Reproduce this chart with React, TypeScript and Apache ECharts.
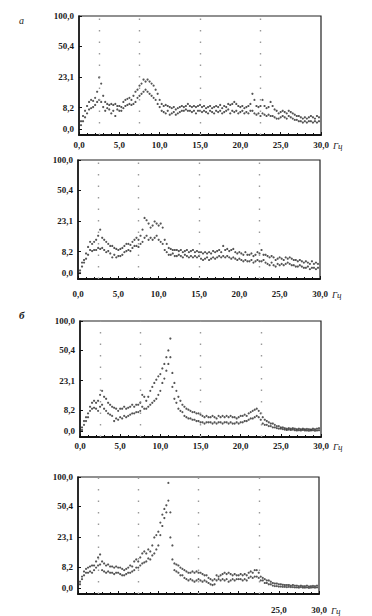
import React, { useEffect, useRef } from "react";
import * as echarts from "echarts";

// frequency bins, Hz (0.25 Hz step)
const FREQ: number[] = Array.from({ length: 119 }, (_, i) => (i + 1) * 0.25);

// nonlinear amplitude scale of the original figure
const Y_TICKS = [0, 8.2, 23.1, 50.4, 100];
const Y_LABELS = ["0,0", "8,2", "23,1", "50,4", "100,0"];

const MARKS = [2.5, 7.5, 15, 22.5];

// panel а, upper record
const P1_HI = [
  3, 5, 7, 9, 11, 12, 11.5, 13, 16, 23, 20, 14, 11, 10, 9.5, 10, 9.5, 10, 9, 9,
  8.5, 11, 12, 12.5, 13, 12, 14, 16, 17, 19, 20, 22, 21, 22, 21, 20, 19, 17, 15, 12,
  10, 9, 9.5, 9, 8.5, 8, 8.5, 7.5, 8, 8.5, 9, 8.5, 9, 10, 9, 8.5, 9, 8.5, 9, 9.5,
  8.5, 9, 8, 8.5, 9, 8, 8.5, 9, 8.5, 9.5, 8, 9, 8.5, 10, 9.5, 10, 11, 10, 9, 8.5,
  9, 8, 8.5, 9, 10, 15, 12, 9, 8.5, 9, 12, 9, 8, 8.5, 11, 9, 7.5, 7, 6, 6.5,
  7, 6.5, 6, 7, 6.5, 6, 5.5, 5, 5, 4.5, 4, 4.5, 4, 4.5, 5, 4.5, 4, 5, 4.5,
];
const P1_LO = [
  1.5, 3, 4.5, 6, 7.5, 8, 8.5, 9.5, 11, 12, 11, 8.5, 7, 8, 7.5, 6, 7, 5, 7.5, 7,
  7, 8, 9, 9.5, 10, 9.5, 10, 11, 13, 14, 15, 16, 17, 16, 15, 14, 13, 12, 10, 8.5,
  7, 6.5, 6, 7, 5.5, 6, 6.5, 5.5, 6, 6.5, 7, 7, 7.5, 7, 7, 6.5, 7, 6, 7, 7,
  6.5, 7, 6.5, 6, 7, 6.5, 6, 7, 6.5, 7, 6, 6.5, 7, 7.5, 6, 7, 6.5, 7, 6, 6.5,
  7, 6, 6.5, 6, 7, 7, 6, 5.5, 6, 5, 6, 5.5, 5, 5.5, 5, 5, 4.5, 4, 4, 4.5,
  5, 4.5, 4, 5, 4.5, 4, 3.5, 3.5, 3, 3, 2.5, 3, 2.5, 3, 3, 2.5, 3, 2.5, 3,
];

// panel а, lower record
const P2_HI = [
  1, 4, 5, 7.5, 10.5, 13, 12, 13, 14, 16, 19, 15, 14, 13, 12, 11, 11, 10, 9.5, 9,
  9.5, 10, 11, 12, 12, 11.5, 13, 14, 15, 14, 16, 19, 26, 24, 22, 20, 21, 23, 22, 21,
  22, 20, 14, 12, 10, 9.5, 9, 9, 9, 8.5, 9, 8, 8.5, 9, 8, 8.5, 9, 8, 8.5, 8,
  8, 7.5, 8, 7.5, 8, 7.5, 8.5, 8, 8.5, 9, 8, 11, 9, 9.5, 8.5, 9, 9.5, 8, 7.5, 8,
  7.5, 7, 8, 7, 7, 7.5, 6.5, 7, 8, 7.5, 9, 7, 7, 6.5, 6, 6.5, 6, 5, 5.5, 6,
  5.5, 5, 6, 5.5, 6, 5.5, 5, 5, 4.5, 5, 4.5, 4, 4.5, 4, 3.5, 4.5, 3.5, 4, 3.5,
];
const P2_LO = [
  0, 2.5, 4, 5.5, 7, 9, 8.5, 9, 9, 10, 9.5, 10, 9, 8, 8.5, 7.5, 6, 7, 6, 6.5,
  6.5, 7, 8, 8.5, 9, 8.5, 10, 11, 11, 10.5, 12, 13, 15, 16, 14, 15, 14, 15, 16, 14,
  13, 12, 9, 8, 7, 7, 7.5, 6.5, 6.5, 7, 6.5, 6, 7, 6.5, 6, 6.5, 6, 6.5, 6, 6.5,
  5.5, 5, 5.5, 6, 5, 5.5, 6, 5.5, 6, 6.5, 6, 6.5, 6, 6.5, 6, 5.5, 6, 5.5, 5, 5.5,
  5, 4.5, 5, 4.5, 4.5, 5, 4, 4.5, 5, 4.5, 4.5, 5, 4, 3.5, 3, 4, 3, 2.5, 3.5, 3,
  3.5, 3, 3.5, 4, 3.5, 3, 3, 2.5, 2.5, 3, 2.5, 2, 2, 2.5, 1.5, 2, 2, 1.5, 2,
];

// panel б, upper record
const P3_HI = [
  1.5, 4, 5.5, 7, 10, 12, 13, 12, 13, 16, 18, 15, 14, 12, 11, 10, 9.5, 9, 8, 9,
  9, 10, 9, 9.5, 10, 11, 10, 11, 11, 12, 16, 15, 13, 15, 18, 20, 22, 24, 27, 29,
  34, 38, 44, 50, 70, 30, 22, 18, 15, 13, 11, 10, 9, 8.5, 8, 7.5, 7.5, 7, 7, 6.5,
  6, 5.5, 6, 5.5, 5.5, 6, 5.5, 5, 6, 5.5, 6, 5.5, 6, 5.5, 6, 5.5, 5.5, 5, 5.5, 6,
  6, 6.5, 6, 7, 7.5, 8, 8.5, 9, 8, 7, 5.5, 4.5, 4, 3.5, 3, 3, 2.5, 2, 2, 1.5,
  1.5, 1.2, 1, 1.2, 1, 1.2, 1, 0.8, 1, 0.8, 1, 0.8, 0.9, 0.8, 0.7, 1, 0.8, 1, 1.2,
];
const P3_LO = [
  0.5, 2.5, 4, 5.5, 8, 9, 9.5, 9, 8, 10, 11, 9, 8, 7, 6.5, 6, 4, 5, 4.5, 5.5,
  5, 6, 5.5, 6, 6.5, 7, 7, 7.5, 7.5, 8, 10, 9, 9, 10, 11, 12, 13, 14, 16, 18,
  22, 25, 32, 38, 44, 20, 14, 12, 9, 8, 7.5, 6, 5.5, 5, 5, 4.5, 4.5, 4, 4, 3.5,
  3.5, 3, 3.5, 3.5, 3.5, 3, 3.5, 3, 3.5, 3.5, 3, 3.5, 3.5, 3, 3.5, 3, 3, 3.5, 3, 3.5,
  3.5, 4, 4, 4.5, 5, 5, 5.5, 6, 5.5, 4.5, 3, 2.5, 2.5, 2, 2, 1.5, 1.5, 1.2, 1, 1,
  0.8, 0.6, 0.5, 0.6, 0.5, 0.6, 0.4, 0.3, 0.4, 0.3, 0.5, 0.3, 0.3, 0.2, 0.3, 0.4, 0.2, 0.3, 0.4,
];

// panel б, lower record
const P4_HI = [
  2.5, 4.5, 6.5, 7.5, 8, 8.5, 9, 9, 11, 13, 14.5, 11, 10, 9, 9.5, 8.5, 8.5, 8, 8.5, 8,
  8, 7.5, 7, 7.5, 8, 9, 8.5, 11, 12, 11, 13, 15, 16, 15, 17, 16, 19, 23, 25, 28,
  36, 43, 48, 52, 90, 45, 19, 10, 9.5, 9, 8, 7.5, 7, 6.5, 6, 6, 6.5, 6, 6.5, 6,
  6, 5.5, 5, 5, 4, 3.5, 3, 3.5, 5, 4.5, 5, 5.5, 6, 5.5, 6, 5.5, 5, 5.5, 5, 5,
  5.5, 5, 5.5, 5, 6, 6.5, 6, 7, 7, 6, 4.5, 4, 3.5, 3, 3, 2.5, 2, 1.8, 1.8, 1.5,
  1.5, 1.3, 1.2, 1.2, 1.2, 1, 1.2, 1, 1, 0.8, 1, 0.8, 0.8, 1, 0.7, 0.8, 0.9, 0.8, 1,
];
const P4_LO = [
  1.5, 3.5, 5, 6, 6, 6.5, 6, 7, 8, 9, 9.5, 7, 6.5, 6, 6.5, 6, 6, 5.5, 6, 6,
  5.5, 5, 5, 5.5, 6, 6, 6.5, 7, 8, 8, 9, 10, 10.5, 11, 12.5, 12, 14, 15, 17, 19,
  25, 33, 40, 45, 60, 23, 12, 7, 6.5, 6, 5, 5, 4, 3.5, 3, 3.5, 3, 2.5, 3, 3.5,
  3, 2.5, 3, 2.5, 2, 1.5, 1.2, 1.5, 3, 3.5, 3, 3.5, 3, 3.5, 2.5, 3, 3.5, 3, 3.5, 3.5,
  3.5, 3, 3.5, 3, 4, 4.5, 4, 4.5, 4.5, 4, 3, 3, 2, 2, 1.5, 1.5, 1, 0.8, 0.8, 0.6,
  0.6, 0.5, 0.5, 0.4, 0.5, 0.4, 0.4, 0.3, 0.3, 0.2, 0.4, 0.2, 0.2, 0.3, 0.1, 0.2, 0.3, 0.2, 0.3,
];

const PANELS = [
  { hi: P1_HI, lo: P1_LO },
  { hi: P2_HI, lo: P2_LO },
  { hi: P3_HI, lo: P3_LO },
  { hi: P4_HI, lo: P4_LO },
];

// layout
const Y_POS = [5, 23, 48.5, 75, 100];
const GRIDS = [
  { left: 79, top: 16, width: 242, height: 119 },
  { left: 78, top: 160, width: 242, height: 119 },
  { left: 80, top: 321, width: 241, height: 116 },
  { left: 78, top: 477, width: 241, height: 117 },
];
const X_LABEL_MARGIN = [5, 10, 4, 11];
const FONT = "'Liberation Serif', 'DejaVu Serif', serif";

function toAxis(v: number): number {
  if (v <= Y_TICKS[0]) return Y_POS[0];
  for (let i = 1; i < Y_TICKS.length; i++) {
    if (v <= Y_TICKS[i]) {
      const t = (v - Y_TICKS[i - 1]) / (Y_TICKS[i] - Y_TICKS[i - 1]);
      return Y_POS[i - 1] + t * (Y_POS[i] - Y_POS[i - 1]);
    }
  }
  return Y_POS[Y_POS.length - 1];
}

const fmtX = (v: number) => v.toFixed(1).replace(".", ",");

export default function App() {
  const ref = useRef<HTMLDivElement>(null);
  useEffect(() => {
    if (!ref.current) return;
    const chart = echarts.init(ref.current, null, { renderer: "svg" });
    const textStyle = { fontFamily: FONT, fontSize: 9, color: "#1a1a1a", fontWeight: "bold" as const };
    const option: any = {
      animation: false,
      backgroundColor: "#fff",
      grid: GRIDS.map((g) => ({ ...g, show: true, borderColor: "#222", borderWidth: 1.2, containLabel: false })),
      xAxis: GRIDS.map((_, i) => ({
        type: "value",
        gridIndex: i,
        min: 0,
        max: 30,
        interval: 5,
        name: "Гц",
        nameLocation: "end",
        nameGap: 12,
        nameTextStyle: {
          fontFamily: FONT,
          fontSize: 9,
          fontStyle: "italic",
          color: "#1a1a1a",
          verticalAlign: "top",
          padding: [X_LABEL_MARGIN[i] + 1, 0, 0, 0],
        },
        axisLine: { show: true, onZero: false, lineStyle: { color: "#111", width: 2 } },
        axisTick: { show: true, inside: true, length: 3, lineStyle: { color: "#111" } },
        minorTick: { show: true, splitNumber: 5, length: 2, lineStyle: { color: "#111" } },
        splitLine: { show: false },
        axisLabel: {
          ...textStyle,
          margin: X_LABEL_MARGIN[i],
          showMinLabel: true,
          showMaxLabel: true,
          formatter: (v: number) => (i === 3 && v < 25 ? "" : fmtX(v)),
        },
      })),
      yAxis: GRIDS.map((_, i) => ({
        type: "value",
        gridIndex: i,
        min: 0,
        max: 100,
        axisLine: { show: true, lineStyle: { color: "#111", width: 1.5 } },
        axisTick: { show: true, inside: true, length: 3, customValues: Y_POS, lineStyle: { color: "#111" } },
        splitLine: { show: false },
        axisLabel: {
          ...textStyle,
          margin: 5,
          customValues: Y_POS,
          formatter: (v: number) => {
            const k = Y_POS.findIndex((p) => Math.abs(p - v) < 0.01);
            return k >= 0 ? Y_LABELS[k] : "";
          },
        },
      })),
      graphic: [
        { type: "text", left: 19, top: 15, style: { text: "а", font: `italic 10px ${FONT}`, fill: "#1a1a1a" } },
        { type: "text", left: 19, top: 309, style: { text: "б", font: `italic bold 11px ${FONT}`, fill: "#1a1a1a" } },
      ],
      series: PANELS.map((p, i) => ({
        type: "scatter",
        xAxisIndex: i,
        yAxisIndex: i,
        symbol: "circle",
        symbolSize: 2.2,
        itemStyle: { color: "#2a2a2a" },
        data: [
          ...FREQ.map((f, k) => [f, toAxis(p.hi[k])]),
          ...FREQ.map((f, k) => [f, toAxis(p.lo[k])]),
        ],
        markLine: {
          silent: true,
          symbol: "none",
          label: { show: false },
          lineStyle: { color: "#9a9a9a", width: 1.4, type: [1.5, 10] },
          data: MARKS.map((m) => ({ xAxis: m })),
        },
      })),
    };
    chart.setOption(option);
    return () => chart.dispose();
  }, []);
  return (
    <div
      ref={ref}
      style={{ position: "fixed", left: 0, top: 0, width: 372, height: 616, background: "#fff" }}
    />
  );
}
